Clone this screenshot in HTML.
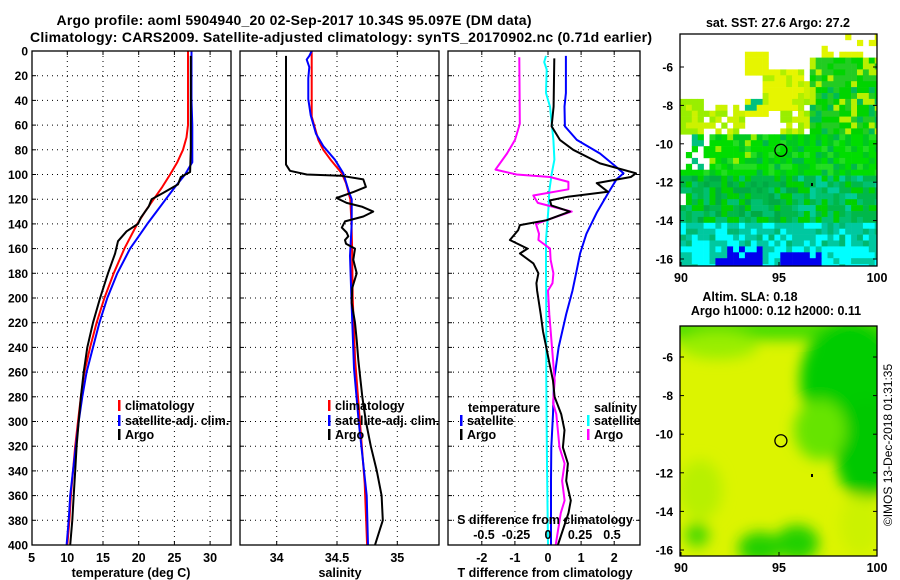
<!DOCTYPE html>
<html><head><meta charset="utf-8"><style>
html,body{margin:0;padding:0;background:#fff;}
svg{display:block;font-family:"Liberation Sans",Arial,sans-serif;font-weight:bold;}
</style></head><body>
<svg id="fig" width="900" height="580" viewBox="0 0 900 580" xmlns="http://www.w3.org/2000/svg">
<defs>
<filter id="blur" x="-20%" y="-20%" width="140%" height="140%"><feGaussianBlur stdDeviation="7"/></filter>
<clipPath id="clipM1"><rect x="680" y="34" width="197" height="232"/></clipPath>
<clipPath id="clipM2"><rect x="680" y="326" width="197" height="230"/></clipPath>
<clipPath id="clipP1"><rect x="32" y="51" width="199" height="494"/></clipPath>
<clipPath id="clipP2"><rect x="240" y="51" width="199" height="494"/></clipPath>
<clipPath id="clipP3"><rect x="448" y="51" width="192" height="494"/></clipPath>
</defs>
<text x="294" y="25" font-size="14" text-anchor="middle" textLength="475">Argo profile: aoml 5904940_20 02-Sep-2017 10.34S 95.097E (DM data)</text>
<text x="341" y="42" font-size="14" text-anchor="middle" textLength="622">Climatology: CARS2009. Satellite-adjusted climatology: synTS_20170902.nc (0.71d earlier)</text>
<g id="layer"></g>
</svg>
<script>
// ---------------- data ----------------
const tempArgoDepth = [4,20,40,60,80,98,102,108,115,120,126,135,140,146,154,164,180,200,220,240,260,280,300,320,340,360,380,400];
const tempArgoValue = [27.3,27.3,27.3,27.3,27.3,27.2,25.9,25.5,23.4,21.8,21.4,20.3,19.9,18.3,17.1,16.7,15.7,14.6,13.6,12.8,12.3,11.9,11.6,11.3,11.1,10.9,10.7,10.4];
const tempClimDepth = [0,20,40,60,70,80,90,100,110,120,130,140,150,160,180,200,220,240,260,280,300,320,340,360,380,400];
const tempClimValue = [26.9,26.9,26.9,26.9,26.7,26.2,25.4,24.4,23.3,22.1,20.9,19.8,18.9,18.0,16.5,15.2,14.1,13.2,12.4,11.9,11.5,11.1,10.8,10.5,10.3,10.0];
const tempSatDepth = [0,20,40,60,80,90,95,100,110,120,130,140,150,160,180,200,220,240,260,280,300,320,340,360,380,400];
const tempSatValue = [27.4,27.4,27.4,27.5,27.5,27.5,27.0,26.5,25.1,23.8,22.5,21.2,20.0,18.8,17.0,15.6,14.5,13.6,12.7,12.1,11.6,11.2,10.8,10.4,10.2,9.9];

const salArgoDepth = [4,92,97,100,101,104,110,114,119,123,126,130,134,138,143,147,150,153,156,160,169,180,192,204,220,234,250,280,300,320,340,360,380,400];
const salArgoValue = [34.077,34.077,34.11,34.249,34.53,34.718,34.74,34.64,34.497,34.58,34.705,34.80,34.718,34.566,34.54,34.58,34.594,34.566,34.575,34.649,34.635,34.663,34.626,34.622,34.649,34.663,34.677,34.71,34.74,34.78,34.83,34.87,34.88,34.815];
const salClimDepth = [0,53,72,80,88,99,107,120,140,160,200,250,300,350,400];
const salClimValue = [34.29,34.29,34.345,34.386,34.447,34.54,34.575,34.61,34.62,34.625,34.63,34.65,34.69,34.73,34.75];
const salSatDepth = [0,4,7,13,22,39,52,67,77,88,99,115,120,140,166,207,257,300,360,400];
const salSatValue = [34.29,34.27,34.249,34.27,34.262,34.262,34.282,34.326,34.386,34.483,34.552,34.602,34.622,34.622,34.608,34.622,34.641,34.68,34.746,34.757];

const tdiffArgoDepth = [6,45,61,72,80,91,99,102,107,114,118,121,125,130,137,141,145,153,160,164,172,180,188,194,213,227,240,254,267,280,294,307,321,334,348,364,374,400];
const tdiffArgoValue = [0.19,0.17,0.11,0.36,0.76,1.57,2.66,2.5,1.47,1.81,0.6,0.06,0.1,0.66,-0.04,-0.85,-0.9,-1.15,-0.62,-0.85,-0.44,-0.29,-0.35,-0.33,-0.22,-0.15,-0.05,0.05,0.15,0.2,0.40,0.50,0.45,0.60,0.55,0.69,0.62,0.3];
const tdiffSatDepth = [4,34,45,61,72,83,94,99,104,115,131,148,164,180,194,213,240,267,294,321,348,400];
const tdiffSatValue = [0.54,0.54,0.5,0.51,0.87,1.57,2.07,2.28,2.07,1.82,1.47,1.16,0.97,0.85,0.74,0.55,0.32,0.18,0.15,0.10,0.09,0.09];
const sdiffArgoDepth = [5,59,72,83,96,100,102,106,112,117,123,130,134,140,148,153,160,169,180,188,194,213,240,267,285,294,321,334,348,364,374,400];
const sdiffArgoValue = [-0.224,-0.22,-0.258,-0.32,-0.41,-0.245,0.016,0.159,0.159,-0.115,-0.08,0.185,0.07,-0.094,-0.07,-0.075,0.016,0.02,0.042,0.035,0.0,0.01,0.031,0.052,0.04,0.065,0.09,0.13,0.11,0.13,0.10,0.06];
const sdiffSatDepth = [4,9,15,34,45,72,88,99,113,126,153,180,213,267,334,400];
const sdiffSatValue = [-0.016,-0.03,-0.01,-0.016,0.016,0.042,0.05,0.03,0.01,0.005,-0.016,-0.016,-0.013,-0.013,-0.008,0.0];

const depthTicks = [0,20,40,60,80,100,120,140,160,180,200,220,240,260,280,300,320,340,360,380,400];
const tempTicks = [5,10,15,20,25,30];
const salTicks = [34,34.5,35];
const tdiffTicks = [-2,-1,0,1,2];
const sdiffTicks = [-0.5,-0.25,0,0.25,0.5];
const latTicks = [-6,-8,-10,-12,-14,-16];
const lonTicks = [90,95,100];
const argoLon = 95.097, argoLat = -10.34;

// ---------------- helpers ----------------
const NS = "http://www.w3.org/2000/svg";
const root = document.getElementById('layer');
function mk(tag, attrs, parent){ const e=document.createElementNS(NS,tag); for(const k in attrs) e.setAttribute(k,attrs[k]); (parent||root).appendChild(e); return e; }
const yD = d => 51 + d*1.235;
const xT = t => 31.6 + (t-5)*7.14;
const xS = s => 276.7 + (s-34)*120.6;
const xTD = t => 548 + t*33.1;
const xSD = s => 548 + s*128;

function drawPanel(name, x0, x1, vticks, xf){
  const g = mk('g',{});
  
  
  depthTicks.forEach(d=>{ if(d>0&&d<400){ const l=mk('line',{x1:x0,x2:x1,y1:yD(d),y2:yD(d),stroke:'#000','stroke-width':1,'stroke-dasharray':'1,4'},g);
     
    mk('line',{x1:x0,x2:x0+4,y1:yD(d),y2:yD(d),stroke:'#000'},g); mk('line',{x1:x1-4,x2:x1,y1:yD(d),y2:yD(d),stroke:'#000'},g);} });
  vticks.forEach(v=>{ const x=xf(v); if(x>x0+1&&x<x1-1){ const l=mk('line',{x1:x,x2:x,y1:51,y2:545,stroke:'#000','stroke-width':1,'stroke-dasharray':'1,4'},g);
     
    mk('line',{x1:x,x2:x,y1:541,y2:545,stroke:'#000'},g); mk('line',{x1:x,x2:x,y1:51,y2:55,stroke:'#000'},g);} });
  return g;
}
function frame(name,x0,x1){ const r=mk('rect',{x:x0,y:51,width:x1-x0,height:494,fill:'none',stroke:'#000','stroke-width':1.3});
    }
function series(name, depths, vals, xf, color, clip, w){
  let d=''; depths.forEach((dp,i)=>{ d+=(i?'L':'M')+xf(vals[i]).toFixed(1)+','+yD(dp).toFixed(1); });
  const p=mk('path',{d:d,fill:'none',stroke:color,'stroke-width':w||2,'stroke-linejoin':'round','clip-path':'url(#'+clip+')'});
  
  
}
function text(name,x,y,s,size,anchor,extra){ const t=mk('text',Object.assign({x:x,y:y,'font-size':size||12,'text-anchor':anchor||'middle'},extra||{})); t.textContent=s;
    return t; }
function legendRow(name,x,y,color,label){
  const m=mk('rect',{x:x-1,y:y-6,width:2.5,height:11,fill:color});  
  text(name,x+6,y+4,label,12.5,'start'); }

// ---------------- panel 1: temperature ----------------
drawPanel('temperature-grid',32,231,tempTicks,xT);
series('temp-climatology-line',tempClimDepth,tempClimValue,xT,'#ff0000','clipP1');
series('temp-satellite-line',tempSatDepth,tempSatValue,xT,'#0000ff','clipP1');
series('temp-argo-line',tempArgoDepth,tempArgoValue,xT,'#000000','clipP1');
frame('temperature-frame',32,231);
depthTicks.forEach(d=>text('depth-tick-label',28,yD(d)+4.5,String(d),12,'end'));
tempTicks.forEach(t=>text('temp-tick-label',xT(t),562,String(t),12.5));
text('temperature-axis-title',131,577,'temperature (deg C)',12.5);
legendRow('legend-climatology',119,406,'#ff0000','climatology');
legendRow('legend-satellite-adj',119,421,'#0000ff','satellite-adj. clim.');
legendRow('legend-argo',119,435,'#000000','Argo');

// ---------------- panel 2: salinity ----------------
drawPanel('salinity-grid',240,439,salTicks,xS);
series('sal-climatology-line',salClimDepth,salClimValue,xS,'#ff0000','clipP2');
series('sal-satellite-line',salSatDepth,salSatValue,xS,'#0000ff','clipP2');
series('sal-argo-line',salArgoDepth,salArgoValue,xS,'#000000','clipP2');
frame('salinity-frame',240,439);
salTicks.forEach(s=>text('sal-tick-label',xS(s),562,String(s),12.5));
text('salinity-axis-title',340,577,'salinity',12.5);
legendRow('legend-sal-climatology',329,406,'#ff0000','climatology');
legendRow('legend-sal-satellite-adj',329,421,'#0000ff','satellite-adj. clim.');
legendRow('legend-sal-argo',329,435,'#000000','Argo');

// ---------------- panel 3: differences ----------------
drawPanel('difference-grid',448,640,tdiffTicks,xTD);
series('tdiff-satellite-line',tdiffSatDepth,tdiffSatValue,xTD,'#0000ff','clipP3');
series('sdiff-satellite-line',sdiffSatDepth,sdiffSatValue,xSD,'#00ffff','clipP3');
series('sdiff-argo-line',sdiffArgoDepth,sdiffArgoValue,xSD,'#ff00ff','clipP3');
series('tdiff-argo-line',tdiffArgoDepth,tdiffArgoValue,xTD,'#000000','clipP3');
frame('difference-frame',448,640);
tdiffTicks.forEach(t=>text('tdiff-tick-label',xTD(t),562,String(t),12.5));
text('tdiff-axis-title',545,577,'T difference from climatology',12.5);
sdiffTicks.forEach(s=>text('sdiff-tick-label',xSD(s),539,String(s),12.5));
text('sdiff-axis-title',545,524,'S difference from climatology',12.5);
text('legend-temperature-header',468,412,'temperature',12.5,'start');
legendRow('legend-tdiff-satellite',461,421,'#0000ff','satellite');
legendRow('legend-tdiff-argo',461,435,'#000000','Argo');
text('legend-salinity-header',594,412,'salinity',12.5,'start');
legendRow('legend-sdiff-satellite',588,421,'#00ffff','satellite');
legendRow('legend-sdiff-argo',588,435,'#ff00ff','Argo');

// ---------------- map helpers ----------------
const mLon = lon => 681 + (lon-90)*19.6;
const m1Lat = lat => 67 + (-6-lat)*19.2;
const m2Lat = lat => 357 + (-6-lat)*19.3;
function mapAxes(prefix, latf, ybot){
  latTicks.forEach(l=>{ text(prefix+'-lat-label',673,latf(l)+4.5,String(l),12,'end');
    mk('line',{x1:680,x2:684,y1:latf(l),y2:latf(l),stroke:'#000'}); mk('line',{x1:873,x2:877,y1:latf(l),y2:latf(l),stroke:'#000'}); });
  lonTicks.forEach(l=>{ text(prefix+'-lon-label',mLon(l),ybot+16,String(l),12.5);
    mk('line',{x1:mLon(l),x2:mLon(l),y1:ybot-4,y2:ybot,stroke:'#000'}); });
}

// ---------------- map 1: SST (blocky cells) ----------------
const g1 = mk('g',{'clip-path':'url(#clipM1)'});


function hsh(i,j){ let h=(i*374761393 + j*668265263)>>>0; h=(h^(h>>>13))*1274126177>>>0; return ((h^(h>>>16))>>>0)%1000/1000; }
const cs=5.9;
for(let j=0;j<40;j++){ for(let i=0;i<34;i++){
  const x=680+i*cs, y=34+j*cs; const lon=90+(x+cs/2-681)/19.6, lat=-6-((y+cs/2)-67)/19.2; const h=hsh(i,j);
  let c=null;
  if(lat>-9.4){
    if(lon>96.6){ c = lat>-5.6 ? (h<0.35?'#e0f500':null) : (h<0.2?'#b8f000':(h<0.6?'#00d400':'#22cc22')); if(lat<-7 && h>0.85) c='#00bb55'; }
    else if(lon>93.3 && lon<94.6 && lat<-5.3 && lat>-6.4) c='#e6f500';
    else if(lon>94.1 && lon<96.3 && lat<-6.2 && lat>-8.3) c=h<0.8?'#e6f500':'#b0f000';
    else if(lon>95.2 && lon<96.6 && lat<-6.8 && lat>-9.4) c=h<0.5?'#ccf200':(h<0.8?'#99ee00':null);
    else if(lon<91.3 && lat<-7.6) c=h<0.5?'#ccf200':'#99ee00';
    else if(lon>91.3 && lon<93.2 && lat<-7.9) c=h<0.45?'#ccf200':(h<0.75?'#99ee00':null);
    else if(lon>93.3 && lon<94.4 && lat<-7.8 && lat>-8.6) c=h<0.5?'#00c080':'#e6f500';
  } else if(lat>-11.7){
    if(lon<91.6 && lat>-11.4) c = (h<0.15?'#00c080':(h<0.3?'#00dd00':null));
    else c = h<0.45?'#00dd00':(h<0.7?'#00c820':(h<0.85?'#22dd22':(lon<94?'#99ee00':'#00b84a')));
  } else if(lat>-14){
    c = h<0.35?'#00b84a':(h<0.6?'#00c070':(h<0.8?'#00d000':(lon>96?'#00cc99':'#00aa44')));
    if(lon<90.3 && lat>-13.2 && lat<-12.5) c=null;
  } else if(lat>-15.2){
    c = h<0.55?'#00c8a0':(h<0.8?'#00ffff':'#00b870');
  } else {
    c = h<0.6?'#00ffff':'#00c8a0';
    if((lon>92.3&&lon<94.1&&lat<-15.2&&lat>-16.1) || (lon>91.8&&lon<94.3&&lat<-16) || (lon>95.2&&lon<97.2&&lat<-15.7)) c = h<0.85?'#0000ee':'#00ffff';
  }
  if(c){ const r=mk('rect',{x:x,y:y,width:cs+0.3,height:cs+0.3,fill:c},g1); }
}}
const f1=mk('rect',{x:680,y:34,width:197,height:232,fill:'none',stroke:'#000','stroke-width':1.3});
 
const c1=mk('circle',{cx:mLon(argoLon),cy:m1Lat(argoLat),r:6,fill:'none',stroke:'#000','stroke-width':1.3});
 
mk('rect',{x:811,y:183,width:2,height:3,fill:'#000'});
mapAxes('sst',m1Lat,266);
text('sst-map-title',778,27,'sat. SST: 27.6 Argo: 27.2',12.5);

// ---------------- map 2: SLA (smooth) ----------------
const g2 = mk('g',{'clip-path':'url(#clipM2)'});


mk('rect',{x:680,y:326,width:197,height:230,fill:'#dcf400'},g2);
const gb = mk('g',{filter:'url(#blur)'},g2);
mk('rect',{x:670,y:318,width:220,height:22,fill:'#44dd00'},gb);
mk('ellipse',{cx:718,cy:345,rx:40,ry:14,fill:'#99ee00'},gb);
mk('ellipse',{cx:850,cy:380,rx:50,ry:60,fill:'#00cc00'},gb);
mk('ellipse',{cx:865,cy:450,rx:30,ry:50,fill:'#00c800'},gb);
mk('ellipse',{cx:820,cy:430,rx:26,ry:30,fill:'#66e400'},gb);
mk('ellipse',{cx:760,cy:548,rx:22,ry:16,fill:'#22d000'},gb);
mk('ellipse',{cx:797,cy:543,rx:22,ry:18,fill:'#22d000'},gb);
mk('ellipse',{cx:697,cy:535,rx:12,ry:12,fill:'#44d800'},gb);
mk('ellipse',{cx:860,cy:525,rx:20,ry:30,fill:'#ccf200'},gb);
mk('ellipse',{cx:700,cy:490,rx:22,ry:30,fill:'#b8f000'},gb);
const f2=mk('rect',{x:680,y:326,width:197,height:230,fill:'none',stroke:'#000','stroke-width':1.3});
 
const c2=mk('circle',{cx:mLon(argoLon),cy:m2Lat(argoLat),r:6,fill:'none',stroke:'#000','stroke-width':1.3});
 
mk('rect',{x:811,y:474,width:2,height:3,fill:'#000'});
mapAxes('sla',m2Lat,556);
text('sla-map-title-1',750,301,'Altim. SLA: 0.18',12.5);
text('sla-map-title-2',776,315,'Argo h1000: 0.12 h2000: 0.11',12.5);
text('copyright-label',0,0,'©IMOS 13-Dec-2018 01:31:35',12,'middle',{transform:'translate(892,445) rotate(-90)','font-weight':'normal'});
</script>
</body></html>
